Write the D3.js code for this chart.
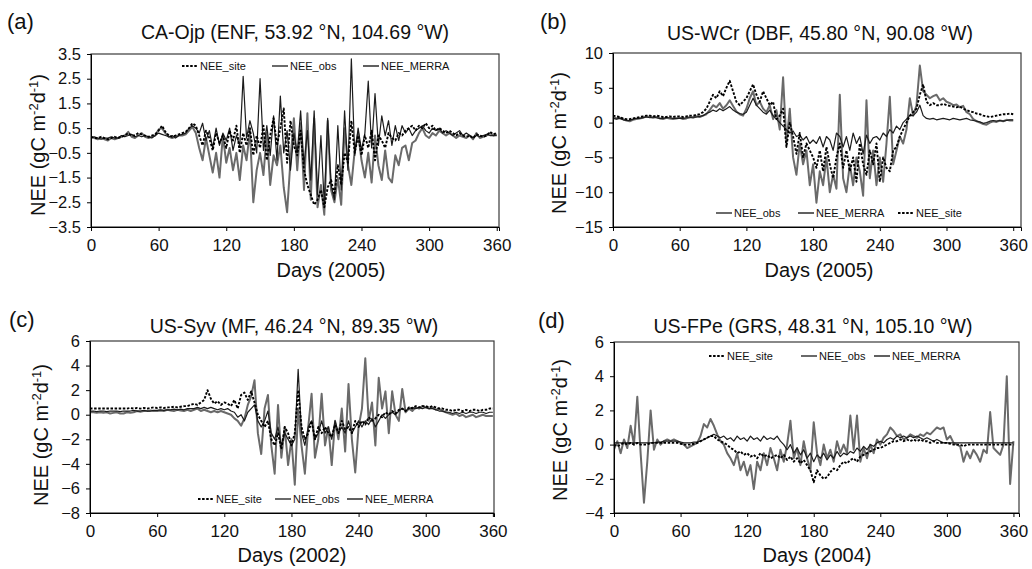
<!DOCTYPE html>
<html><head><meta charset="utf-8">
<script src="https://cdn.jsdelivr.net/npm/d3@7"></script>
<style>
body{margin:0;background:#fff}
text{font-family:"Liberation Sans",Arial,Helvetica,sans-serif;fill:#111}
</style>
</head><body>
<svg id="chart" width="1032" height="569"></svg>
<script>
// Day grid (every 3rd day, 0..360)
const DAYS = d3.range(0, 361, 3);
const X_TICKS = [0, 60, 120, 180, 240, 300, 360];
const Y_TICKS_A = [-3.5, -2.5, -1.5, -0.5, 0.5, 1.5, 2.5, 3.5];
const Y_TICKS_B = [-15, -10, -5, 0, 5, 10];
const Y_TICKS_C = [-8, -6, -4, -2, 0, 2, 4, 6];
const Y_TICKS_D = [-4, -2, 0, 2, 4, 6];

// (a) CA-Ojp
const A_OBS = [
 0.15,0.1,0.05,0.1,0.05,0.0,0.1,0.05,0.1,0.15,
 0.2,0.35,0.15,0.1,0.2,0.3,0.15,0.1,0.15,0.2,
 0.45,0.5,0.3,0.15,0.1,0.15,0.2,0.2,0.25,0.4,
 0.55,0.3,-0.3,-0.8,0.1,-0.6,-1.3,-0.5,-1.5,0.2,
 -0.9,-0.3,-1.2,-0.5,-1.6,-0.2,-0.8,0.4,-2.5,-1.2,
 -0.5,-1.4,0.3,-1.8,-0.6,-1.0,-0.2,-1.9,-2.9,-0.8,
 0.9,-1.2,0.7,-2.0,1.1,-2.4,0.9,-2.7,-1.8,-3.0,
 0.8,-2.0,-2.5,-1.5,-2.6,0.5,-1.0,-1.8,-0.4,0.3,
 -0.8,-1.5,-0.5,-1.7,0.2,-1.0,-1.6,-0.4,-1.5,-1.7,
 -0.6,-1.0,-0.3,-0.2,-0.8,-0.1,0.0,0.3,0.5,0.2,
 0.1,0.3,0.2,0.4,0.3,0.2,0.3,0.2,0.1,0.2,
 0.15,0.1,0.2,0.05,0.3,0.1,0.15,0.2,0.3,0.2,
 0.25];
const A_MERRA = [
 0.1,0.15,0.1,0.05,0.1,0.1,0.15,0.1,0.1,0.2,
 0.15,0.2,0.25,0.15,0.2,0.15,0.2,0.15,0.1,0.2,
 0.3,0.25,0.2,0.15,0.2,0.1,0.2,0.25,0.3,0.5,
 0.6,0.5,0.3,0.7,0.0,0.4,-0.3,0.5,-0.2,0.3,
 0.0,0.5,-0.4,0.2,-0.2,2.6,0.1,0.8,0.3,-0.5,
 2.5,-0.4,0.6,-0.6,1.0,-0.8,1.8,-0.5,0.4,-1.2,
 0.3,-0.5,1.2,-1.0,0.4,-1.6,1.2,-2.2,0.2,-2.6,
 0.9,-1.8,-2.4,0.6,-2.0,1.2,-1.2,3.3,-0.6,0.5,
 -0.4,0.3,2.4,-0.3,1.9,-0.2,1.0,0.2,0.8,-0.2,
 0.6,0.0,0.6,0.3,0.5,0.2,0.4,0.5,0.6,0.4,
 0.3,0.5,0.4,0.5,0.3,0.4,0.3,0.2,0.3,0.4,
 0.2,0.3,0.2,0.1,0.2,0.15,0.2,0.25,0.2,0.2,
 0.2];
const A_SITE = [
 0.15,0.1,0.1,0.15,0.1,0.05,0.1,0.15,0.1,0.15,
 0.2,0.3,0.2,0.2,0.3,0.25,0.2,0.15,0.2,0.25,
 0.4,0.6,0.35,0.2,0.15,0.2,0.25,0.3,0.35,0.5,
 0.7,0.6,0.2,-0.2,0.4,0.1,-0.4,0.3,-0.1,0.2,
 -0.3,0.4,0.0,0.6,-0.5,0.3,-0.2,0.5,-0.6,0.2,
 -0.3,0.6,-0.8,0.2,0.9,-0.2,0.5,1.3,-0.9,0.8,
 -0.2,-0.6,0.4,-1.2,-1.8,-2.2,-2.6,-2.4,-2.0,-2.7,
 -1.9,-1.6,-2.2,-1.0,-1.8,-0.5,-0.9,0.8,-0.5,0.2,
 -0.6,0.2,-0.3,0.4,-0.8,0.2,0.0,-0.3,0.3,0.1,
 0.0,0.3,0.2,0.4,0.5,0.6,0.4,0.6,0.5,0.7,
 0.5,0.6,0.4,0.5,0.4,0.3,0.4,0.3,0.2,0.3,
 0.2,0.15,0.2,0.1,0.25,0.2,0.15,0.2,0.35,0.25,
 0.3];

// (b) US-WCr
const B_OBS = [
 0.8,0.6,0.7,0.5,0.3,0.2,0.4,0.5,0.6,0.7,
 0.9,0.8,0.7,0.8,0.6,0.5,0.7,0.6,0.5,0.6,
 0.7,0.5,0.6,0.8,0.7,0.9,0.8,1.0,1.2,1.8,
 2.5,2.2,2.8,2.0,2.5,3.2,2.4,1.6,1.2,1.0,
 2.0,3.5,4.5,2.5,3.0,2.0,1.5,2.5,0.5,1.8,
 -1.0,6.5,-3.0,2.0,-5.0,-7.5,-3.0,-6.0,-4.0,-9.0,
 -6.0,-11.5,-7.0,-9.0,-5.0,-10.0,-7.5,-9.5,4.0,-8.0,
 -10.0,-6.0,-9.0,-5.0,-7.0,-10.5,3.2,-8.0,-4.0,-9.0,
 -5.0,-8.5,-3.0,3.7,-6.0,-4.0,-2.0,-3.0,-1.0,3.5,
 1.0,2.5,8.2,4.5,4.0,3.5,3.8,4.0,3.2,3.5,
 3.0,2.8,2.5,2.6,2.2,2.4,1.5,1.2,0.5,0.2,
 0.0,-0.2,-0.3,0.0,0.2,0.1,0.3,0.2,0.4,0.3,
 0.3];
const B_MERRA = [
 0.6,0.5,0.6,0.4,0.3,0.3,0.5,0.6,0.6,0.7,
 0.8,0.7,0.8,0.7,0.6,0.6,0.7,0.7,0.6,0.6,
 0.6,0.6,0.7,0.7,0.8,0.8,0.9,1.0,1.3,1.5,
 1.8,1.6,2.0,1.7,2.0,2.3,1.8,1.5,1.3,1.2,
 1.5,2.5,3.5,2.5,2.0,1.5,1.2,1.8,1.0,0.5,
 0.0,-0.5,-1.0,-1.5,-1.2,-2.0,-1.8,-2.5,-2.0,-3.0,
 -2.5,-3.0,-2.0,-3.5,-2.0,-2.5,-4.0,-1.5,-2.0,-3.5,
 -2.0,-4.0,-1.5,-3.0,-2.0,-4.5,-1.8,-3.0,-2.2,-2.0,
 -2.5,-1.5,-2.0,-1.0,-1.5,-0.5,-1.0,0.0,0.5,1.0,
 1.0,1.5,2.5,1.0,0.6,0.5,0.6,0.4,0.5,0.6,
 0.5,0.4,0.6,0.5,0.4,0.5,0.6,0.4,0.3,0.2,
 0.1,-0.1,0.0,0.2,0.3,0.2,0.3,0.2,0.3,0.4,
 0.4];
const B_SITE = [
 1.0,0.9,0.8,0.6,0.5,0.5,0.6,0.7,0.8,0.9,
 1.0,1.0,0.9,1.0,0.9,0.8,0.8,0.9,0.8,0.9,
 0.9,0.8,0.9,1.0,1.0,1.1,1.2,1.5,2.0,3.0,
 4.0,3.5,4.5,3.8,5.0,6.0,4.5,3.0,2.5,3.0,
 3.5,4.5,5.5,4.0,3.0,4.5,3.5,2.5,3.0,0.5,
 1.0,2.0,-3.5,0.0,-2.0,-4.5,-1.5,-5.0,-3.0,-4.0,
 -5.0,-6.5,-4.0,-7.0,-3.5,-6.0,-8.0,-5.0,-3.0,-6.5,
 -4.0,-7.0,-5.0,-8.5,-3.0,-6.0,-7.5,-4.0,-6.0,-3.0,
 -8.5,-5.0,-6.5,-7.0,-4.0,-3.5,-2.0,-1.0,0.0,1.0,
 1.5,2.0,4.0,5.5,3.0,2.5,2.8,2.5,2.5,2.7,
 2.5,2.4,2.3,2.2,2.3,2.0,1.8,1.6,1.5,1.3,
 1.2,1.0,0.9,0.8,0.9,1.0,1.1,1.2,1.2,1.3,
 1.2];

// (c) US-Syv
const C_OBS = [
 0.2,0.2,0.15,0.2,0.15,0.2,0.1,0.15,0.2,0.1,
 0.1,0.2,0.15,0.2,0.3,0.25,0.3,0.3,0.35,0.3,
 0.3,0.35,0.3,0.4,0.35,0.3,0.4,0.35,0.3,0.4,
 0.3,0.4,0.5,0.3,0.4,0.3,0.2,0.3,0.2,0.3,
 0.2,0.1,0.0,-0.3,-0.5,-0.9,-0.3,0.8,1.5,2.8,
 -1.5,-3.2,0.5,1.6,-2.5,-4.8,0.8,-3.5,-1.0,-4.1,
 -2.0,-5.7,0.5,-2.5,-4.8,-1.0,1.7,-3.5,-2.0,1.7,
 -2.5,-1.0,-4.1,-0.5,-2.0,0.5,-3.0,2.5,-2.0,-4.7,
 -1.0,0.5,4.6,-0.5,1.0,-2.5,3.0,0.5,1.9,-1.5,
 1.9,0.0,-0.5,2.1,0.2,0.5,0.3,0.6,0.5,0.7,
 0.6,0.5,0.6,0.4,0.5,0.3,0.2,0.1,0.0,0.1,
 -0.1,0.0,-0.2,-0.1,0.0,-0.2,-0.1,0.0,-0.1,-0.1,
 -0.1];
const C_MERRA = [
 0.3,0.3,0.25,0.3,0.3,0.25,0.3,0.3,0.3,0.25,
 0.3,0.3,0.3,0.35,0.3,0.3,0.35,0.3,0.3,0.35,
 0.35,0.4,0.35,0.4,0.4,0.45,0.4,0.45,0.4,0.5,
 0.5,0.5,0.6,0.5,0.6,0.5,0.6,0.5,0.4,0.5,
 0.4,0.5,0.3,0.2,-0.2,0.0,-0.5,0.2,0.5,0.8,
 -0.5,-1.0,-0.5,0.3,-1.5,-2.0,-1.0,-2.5,-1.5,-2.0,
 -2.5,-2.0,3.7,-1.5,-2.5,-1.0,-0.5,-2.0,-1.5,-0.5,
 -1.5,-1.0,-2.0,-0.5,-1.5,-1.0,-1.5,-0.5,-1.5,-1.0,
 -0.5,-1.0,-0.5,-0.8,-0.3,-1.0,-0.5,0.0,-0.3,0.0,
 0.2,0.0,0.3,0.5,0.3,0.5,0.6,0.5,0.6,0.5,
 0.6,0.5,0.5,0.4,0.3,0.3,0.2,0.2,0.1,0.2,
 0.1,0.2,0.1,0.2,0.2,0.1,0.2,0.2,0.1,0.2,
 0.2];
const C_SITE = [
 0.5,0.5,0.5,0.5,0.5,0.5,0.5,0.5,0.5,0.5,
 0.5,0.5,0.55,0.5,0.55,0.5,0.55,0.5,0.55,0.6,
 0.55,0.6,0.55,0.6,0.6,0.65,0.6,0.65,0.7,0.7,
 0.8,0.9,0.8,1.0,1.2,2.0,1.3,0.9,1.1,0.8,
 1.0,0.9,0.7,1.2,0.5,1.6,1.8,1.2,1.9,1.0,
 0.0,-0.5,-1.0,-0.5,-2.0,-2.5,-1.5,-2.8,-1.0,-1.5,
 -2.5,-1.5,2.0,-1.0,-2.0,-1.5,-0.5,-2.0,-1.0,-1.5,
 -1.0,-1.5,-1.8,-0.8,-1.5,-0.5,-1.2,-1.0,-1.5,-0.5,
 -1.0,-0.5,-0.8,-0.2,-0.5,-0.3,0.0,-0.2,0.2,0.0,
 0.3,0.1,0.4,0.5,0.3,0.6,0.5,0.7,0.6,0.7,
 0.7,0.6,0.7,0.6,0.5,0.5,0.4,0.4,0.3,0.4,
 0.4,0.3,0.4,0.3,0.4,0.4,0.3,0.4,0.4,0.5,
 0.5];

// (d) US-FPe
const D_OBS = [
 -0.3,0.2,-0.5,0.3,-0.2,1.1,0.0,2.8,-0.5,-3.4,
 -1.0,2.0,-0.3,0.3,0.0,0.2,0.3,0.2,0.3,0.2,
 0.1,0.0,-0.2,-0.1,0.0,0.1,0.5,1.2,1.0,1.5,
 1.1,0.6,0.2,0.0,-0.5,-0.8,-1.2,-0.5,-1.5,-1.0,
 -1.8,-1.2,-2.6,-1.0,-1.5,-0.5,-1.2,-0.2,-0.8,-1.5,
 -0.3,-1.0,0.0,1.4,-0.8,-0.2,-1.2,0.2,-0.8,-1.5,
 1.3,-0.5,-1.2,0.0,-0.8,-0.3,-1.0,0.2,-0.5,0.0,
 -0.5,1.7,-0.3,1.7,-1.0,-0.2,-0.8,0.0,-0.5,0.3,
 0.0,0.4,0.6,1.0,0.8,0.5,0.6,0.3,0.4,0.6,
 0.5,0.4,0.6,0.5,0.7,0.6,0.8,1.0,0.9,1.0,
 0.3,0.5,0.1,0.0,-0.1,-1.0,-0.4,-0.8,-0.3,-0.6,
 -1.0,-0.3,-0.5,1.9,-0.2,-0.4,-0.6,0.0,4.0,-2.3,
 0.2];
const D_MERRA = [
 0.1,0.1,0.1,0.1,0.1,0.1,0.1,0.1,0.1,0.1,
 0.1,0.1,0.1,0.15,0.15,0.2,0.2,0.2,0.2,0.2,
 0.15,0.1,0.1,0.1,0.15,0.15,0.2,0.3,0.4,0.5,
 0.6,0.5,0.4,0.5,0.3,0.4,0.2,0.5,0.3,0.4,
 0.2,0.5,0.3,0.4,0.2,0.5,0.3,0.4,0.3,0.5,
 0.2,0.0,-0.3,0.0,-0.5,-0.2,-0.6,-0.3,-0.8,-0.5,
 -1.0,-0.6,-0.8,-0.5,-0.9,-0.6,-0.8,-0.4,-0.7,-0.5,
 -0.6,-0.4,-0.5,-0.2,-0.4,-0.1,-0.3,0.0,-0.1,0.1,
 0.2,0.1,0.3,0.4,0.3,0.5,0.4,0.5,0.4,0.5,
 0.4,0.5,0.4,0.3,0.4,0.3,0.2,0.3,0.2,0.1,
 0.1,0.1,0.1,0.1,0.1,0.1,0.1,0.1,0.1,0.1,
 0.1,0.1,0.1,0.1,0.1,0.1,0.1,0.1,0.1,0.1,
 0.1];
const D_SITE = [
 0.0,-0.1,0.0,0.1,0.0,0.1,0.0,0.1,0.0,0.0,
 0.0,0.1,0.1,0.1,0.1,0.1,0.1,0.1,0.1,0.1,
 0.05,0.0,0.0,0.0,0.05,0.1,0.2,0.3,0.4,0.5,
 0.5,0.3,0.2,0.1,0.0,-0.2,-0.3,-0.5,-0.4,-0.6,
 -0.5,-0.7,-0.6,-0.8,-0.5,-0.7,-0.6,-0.8,-0.7,-0.6,
 -0.8,-0.6,-0.9,-0.7,-1.0,-0.8,-1.1,-0.9,-1.2,-1.5,
 -2.2,-1.5,-1.8,-2.0,-1.9,-1.6,-1.4,-1.5,-1.2,-1.0,
 -1.1,-0.9,-0.8,-1.0,-0.7,-0.6,-0.5,-0.4,-0.3,-0.2,
 -0.2,-0.1,0.0,0.1,0.2,0.2,0.3,0.2,0.3,0.2,
 0.3,0.2,0.3,0.2,0.2,0.1,0.2,0.1,0.1,0.1,
 0.1,0.05,0.0,0.0,0.0,-0.1,0.0,0.0,0.0,0.0,
 0.0,0.0,0.0,0.0,0.0,0.0,0.0,0.0,0.0,0.0,
 0.0];

const SERIES_LABELS = {obs: "NEE_obs", merra: "NEE_MERRA", site: "NEE_site"};
const STYLE = {
  obs:   {stroke: "#6a6a6a", width: 2.0, dash: null},
  merra: {stroke: "#1c1c1c", width: 1.2, dash: null},
  site:  {stroke: "#000000", width: 1.9, dash: "2.5,1.6"}
};

const panels = [
 {letter: "(a)", title: "CA-Ojp (ENF, 53.92 °N, 104.69 °W)", xlab: "Days (2005)",
  box: [91, 54, 499, 227], xmax: 362, ydom: [-3.5, 3.5], yticks: Y_TICKS_A, fmt: ".1f",
  data: {obs: A_OBS, merra: A_MERRA, site: A_SITE},
  legOrder: ["site", "obs", "merra"], legX: [182, 272, 363], legY: 66,
  letterXY: [7, 29], titleXY: [295, 39], xlabXY: [331, 277], ylabXY: [45, 145]},
 {letter: "(b)", title: "US-WCr (DBF, 45.80 °N, 90.08 °W)", xlab: "Days (2005)",
  box: [613, 53, 1021, 227], xmax: 367, ydom: [-15, 10], yticks: Y_TICKS_B, fmt: "d",
  data: {obs: B_OBS, merra: B_MERRA, site: B_SITE},
  legOrder: ["obs", "merra", "site"], legX: [716, 798, 898], legY: 213,
  letterXY: [540, 29], titleXY: [820, 40], xlabXY: [819, 277], ylabXY: [566, 143]},
 {letter: "(c)", title: "US-Syv (MF, 46.24 °N, 89.35 °W)", xlab: "Days (2002)",
  box: [90, 341, 494, 513], xmax: 361, ydom: [-8, 6], yticks: Y_TICKS_C, fmt: "d",
  data: {obs: C_OBS, merra: C_MERRA, site: C_SITE},
  legOrder: ["site", "obs", "merra"], legX: [198, 275, 347], legY: 499,
  letterXY: [9, 327], titleXY: [294, 333], xlabXY: [292, 562], ylabXY: [48, 435]},
 {letter: "(d)", title: "US-FPe (GRS, 48.31 °N, 105.10 °W)", xlab: "Days (2004)",
  box: [614, 342, 1019, 513], xmax: 365, ydom: [-4, 6], yticks: Y_TICKS_D, fmt: "d",
  data: {obs: D_OBS, merra: D_MERRA, site: D_SITE},
  legOrder: ["site", "obs", "merra"], legX: [709, 801, 874], legY: 356,
  letterXY: [538, 328], titleXY: [813, 333], xlabXY: [817, 562], ylabXY: [567, 430]}
];

const svg = d3.select("#chart");
svg.append("rect").attr("width", 1032).attr("height", 569).attr("fill", "#fff");

panels.forEach((p, pi) => {
  const [x0, y0, x1, y1] = p.box;
  const x = d3.scaleLinear().domain([0, p.xmax]).range([x0, x1]);
  const y = d3.scaleLinear().domain(p.ydom).range([y1, y0]);
  const g = svg.append("g");

  const cid = "clip" + pi;
  g.append("clipPath").attr("id", cid).append("rect")
    .attr("x", x0).attr("y", y0 - 2).attr("width", x1 - x0).attr("height", y1 - y0 + 2);

  g.append("rect").attr("x", x0).attr("y", y0).attr("width", x1 - x0).attr("height", y1 - y0)
    .attr("fill", "none").attr("stroke", "#3a3a3a").attr("stroke-width", 1.2);

  const line = d3.line().x((d, i) => x(DAYS[i])).y(d => y(d));
  ["obs", "merra", "site"].forEach(k => {
    const s = STYLE[k];
    g.append("path").datum(p.data[k])
      .attr("clip-path", `url(#${cid})`)
      .attr("d", line).attr("fill", "none")
      .attr("stroke", s.stroke).attr("stroke-width", s.width)
      .attr("stroke-linejoin", "round")
      .attr("stroke-dasharray", s.dash);
  });

  const yAxis = d3.axisLeft(y).tickValues(p.yticks).tickSize(4).tickPadding(6)
    .tickFormat(d3.format(p.fmt));
  const ga = g.append("g").attr("transform", `translate(${x0},0)`).call(yAxis);
  ga.select(".domain").attr("stroke", "#000");
  ga.selectAll("text").attr("font-size", 16.5).attr("fill", "#111")
    .style("font-family", '"Liberation Sans", Arial, sans-serif');

  const xAxis = d3.axisBottom(x).tickValues(X_TICKS).tickSize(4).tickPadding(8)
    .tickFormat(d3.format("d"));
  const gx = g.append("g").attr("transform", `translate(0,${y1})`).call(xAxis);
  gx.select(".domain").attr("stroke", "#000");
  gx.selectAll("text").attr("font-size", 17).attr("fill", "#111")
    .style("font-family", '"Liberation Sans", Arial, sans-serif');

  g.append("text").attr("x", p.letterXY[0]).attr("y", p.letterXY[1])
    .attr("font-size", 22).text(p.letter);
  g.append("text").attr("x", p.titleXY[0]).attr("y", p.titleXY[1])
    .attr("text-anchor", "middle").attr("font-size", 19.5).text(p.title);
  g.append("text").attr("x", p.xlabXY[0]).attr("y", p.xlabXY[1])
    .attr("text-anchor", "middle").attr("font-size", 20).text(p.xlab);

  const yl = g.append("text")
    .attr("transform", `translate(${p.ylabXY[0]},${p.ylabXY[1]}) rotate(-90)`)
    .attr("text-anchor", "middle").attr("font-size", 20);
  yl.append("tspan").text("NEE (gC m");
  yl.append("tspan").attr("dy", -7).attr("font-size", 13).text("-2");
  yl.append("tspan").attr("dy", 7).text("d");
  yl.append("tspan").attr("dy", -7).attr("font-size", 13).text("-1");
  yl.append("tspan").attr("dy", 7).text(")");

  p.legOrder.forEach((k, i) => {
    const s = STYLE[k];
    const lx = p.legX[i];
    g.append("line").attr("x1", lx).attr("x2", lx + 16).attr("y1", p.legY).attr("y2", p.legY)
      .attr("stroke", s.stroke).attr("stroke-width", k === "merra" ? 1.4 : s.width)
      .attr("stroke-dasharray", s.dash);
    g.append("text").attr("x", lx + 18).attr("y", p.legY + 4)
      .attr("font-size", 11).attr("fill", "#444").text(SERIES_LABELS[k]);
  });
});
</script>
</body></html>
